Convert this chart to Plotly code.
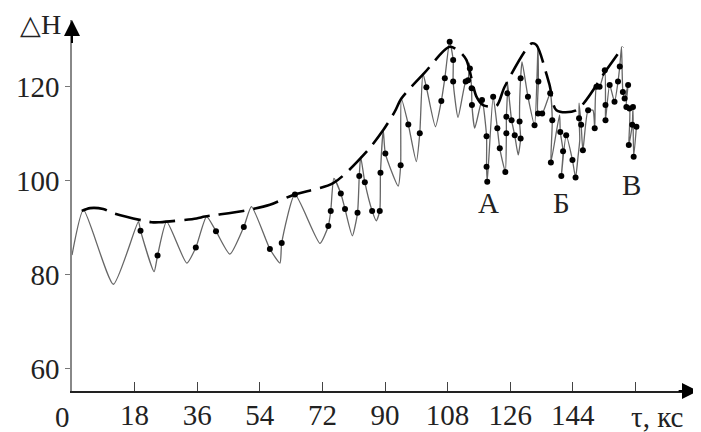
import plotly.graph_objects as go

# ---- data (tau in ks, dH) ----
curve_tau = [0, 3.3, 11.9, 19.1, 19.7, 23.6, 24.6, 27.2, 33.0, 35.6, 38.7, 41.4, 45.4, 49.4, 51.6,
             56.9, 59.8, 60.3, 64.1, 71.3, 73.7, 74.4, 75.3, 77.3, 78.5, 80.6, 82.1, 82.6, 83.0,
             84.2, 86.3, 87.5, 88.5, 88.7, 89.5, 90.1, 93.8, 94.5, 94.7, 96.7, 99.0, 100.0, 100.9,
             101.9, 104.5, 106.2, 107.2, 108.6, 109.6, 109.6, 111.0, 113.2, 113.9, 114.2, 114.4,
             114.9, 115.0, 115.8, 117.9, 119.2, 119.2, 119.4, 121.1, 122.3, 123.0, 124.6, 124.9,
             124.9, 125.2, 125.2, 126.4, 127.3, 128.3, 129.0, 128.7, 129.0, 129.4, 131.1, 133.0,
             134.0, 134.1, 134.0, 135.2, 137.5, 138.1, 137.7, 140.2, 140.4, 141.2, 140.7, 142.1,
             143.9, 144.8, 145.5, 146.0, 145.8, 145.8, 146.4, 146.9, 148.4, 149.8, 150.3, 150.8,
             151.7, 153.2, 153.4, 153.4, 154.6, 156.0, 157.0, 157.5, 158.0, 158.4, 158.9, 159.9,
             159.4, 160.3, 160.1, 161.1, 161.3, 161.5, 162.3]
curve_dH = [84.2, 93.8, 78.0, 91.3, 89.4, 80.7, 84.1, 91.3, 82.5, 85.8, 92.4, 89.3, 84.4, 90.2, 94.5,
            85.5, 82.5, 86.8, 97.1, 86.7, 90.4, 93.6, 100.5, 97.3, 94.0, 88.3, 93.2, 101.0, 105.1,
            99.7, 93.6, 91.5, 93.6, 101.7, 110.8, 105.8, 98.9, 103.3, 117.5, 112.0, 104.1, 110.1, 122.8,
            119.9, 111.5, 117.0, 121.8, 129.6, 125.7, 121.1, 113.5, 121.1, 121.4, 125.0, 123.9,
            119.7, 116.1, 111.2, 117.2, 109.5, 103.0, 99.8, 117.9, 111.2, 106.9, 101.9, 110.1,
            113.6, 118.6, 121.1, 112.9, 109.7, 105.5, 109.0, 112.6, 121.8, 125.3, 117.9, 111.8,
            128.5, 121.1, 114.3, 114.3, 118.6, 112.9, 103.9, 114.0, 110.4, 106.3, 101.0, 109.7,
            104.4, 100.7, 105.1, 108.7, 113.3, 116.5, 111.9, 106.5, 115.0, 115.0, 111.2, 120.0,
            120.0, 123.5, 116.1, 112.9, 120.4, 116.8, 121.1, 124.3, 128.5, 118.9, 117.5, 120.4,
            115.7, 115.4, 107.6, 111.9, 115.7, 105.1, 111.5]

pts_tau = [19.7, 24.6, 35.6, 41.4, 49.4, 56.9, 60.3, 64.1, 73.7, 74.4, 77.3, 78.5, 82.1, 82.6,
           84.2, 86.3, 88.5, 88.7, 90.1, 94.5, 96.7, 100.0, 101.9, 106.2, 107.2, 108.6, 109.6,
           109.6, 113.2, 113.9, 114.4, 114.9, 115.0, 117.9, 119.2, 119.2, 119.4, 121.1, 122.3,
           123.0, 124.6, 124.9, 124.9, 125.2, 126.4, 127.3, 129.0, 128.7, 129.0, 131.1, 133.0,
           134.1, 134.0, 135.2, 137.5, 138.1, 137.7, 140.4, 141.2, 140.7, 142.1, 143.9, 144.8,
           145.8, 146.4, 146.9, 148.4, 150.3, 150.8, 151.7, 153.2, 153.4, 153.4, 154.6, 156.0,
           157.0, 157.5, 158.4, 158.9, 159.9, 159.4, 160.3, 160.1, 161.1, 161.3, 161.5, 162.3]
pts_dH = [89.4, 84.1, 85.8, 89.3, 90.2, 85.5, 86.8, 97.1, 90.4, 93.6, 97.3, 94.0, 93.2, 101.0,
          99.7, 93.6, 93.6, 101.7, 105.8, 103.3, 112.0, 110.1, 119.9, 117.0, 121.8, 129.6, 125.7,
          121.1, 121.1, 121.4, 123.9, 119.7, 116.1, 117.2, 109.5, 103.0, 99.8, 117.9, 111.2,
          106.9, 101.9, 110.1, 113.6, 118.6, 112.9, 109.7, 109.0, 112.6, 121.8, 117.9, 111.8,
          121.1, 114.3, 114.3, 118.6, 112.9, 103.9, 110.4, 106.3, 101.0, 109.7, 104.4, 100.7,
          113.3, 111.9, 106.5, 115.0, 111.2, 120.0, 120.0, 123.5, 116.1, 112.9, 120.4, 116.8,
          121.1, 124.3, 118.9, 117.5, 120.4, 115.7, 115.4, 107.6, 111.9, 115.7, 105.1, 111.5]

env_tau = [2.8, 5.2, 9.0, 11.9, 22.9, 25.3, 35.8, 38.2, 49.2, 56.9, 63.6, 75.1, 84.7, 89.5, 92.8,
           94.7, 101.4, 108.6, 111.5, 113.4, 116.3, 118.2, 122.0, 124.4, 132.1, 133.5, 137.2,
           139.3, 145.0, 153.6, 158.4]
env_dH = [93.6, 94.2, 94.0, 93.1, 91.2, 91.2, 92.0, 92.4, 93.6, 94.9, 97.0, 99.5, 106.2, 110.8,
          114.7, 117.5, 123.0, 128.5, 127.4, 125.7, 117.9, 116.1, 115.9, 120.0, 129.2, 128.9,
          120.7, 115.0, 115.0, 123.5, 128.5]

x_ticks = [18, 36, 54, 72, 90, 108, 126, 144, 162]
x_ticktext = ["18", "36", "54", "72", "90", "108", "126", "144", ""]
y_ticks = [60, 80, 100, 120]
point_labels = ["А", "Б", "В"]
label_tau = [119.7, 140.7, 160.8]
label_dH = [95.2, 95.2, 99.1]

FONT = "Liberation Serif"

fig = go.Figure()
fig.add_trace(go.Scatter(x=curve_tau, y=curve_dH, mode="lines",
                         line=dict(color="#666666", width=1.3, shape="spline", smoothing=0.55),
                         hoverinfo="skip"))
fig.add_trace(go.Scatter(x=env_tau, y=env_dH, mode="lines",
                         line=dict(color="black", width=2.6, dash="26px,9px", shape="spline",
                                   smoothing=0.8),
                         hoverinfo="skip"))
fig.add_trace(go.Scatter(x=pts_tau, y=pts_dH, mode="markers",
                         marker=dict(color="black", size=6)))

for t, xx, yy in zip(point_labels, label_tau, label_dH):
    fig.add_annotation(x=xx, y=yy, text=t, showarrow=False,
                       font=dict(family=FONT, size=29, color="#222"))

# axis arrows
fig.add_annotation(x=180, y=55.3, ax=174, ay=55.3, xref="x", yref="y", axref="x", ayref="y",
                   showarrow=True, arrowhead=2, arrowsize=1.6, arrowwidth=2, arrowcolor="black",
                   text="")
fig.add_annotation(x=0, y=134.2, ax=0, ay=129, xref="x", yref="y", axref="x", ayref="y",
                   showarrow=True, arrowhead=2, arrowsize=1.6, arrowwidth=2, arrowcolor="black",
                   text="")
fig.add_annotation(x=0, y=0, xref="x", yref="paper", text="0", showarrow=False,
                   xanchor="center", yanchor="top", xshift=-10, yshift=-8,
                   font=dict(family=FONT, size=29, color="#222"))
fig.add_annotation(x=168.2, y=0, xref="x", yref="paper", text="τ, кс", showarrow=False,
                   xanchor="center", yanchor="top", yshift=-8,
                   font=dict(family=FONT, size=29, color="#222"))
fig.add_annotation(x=0, y=1, xref="paper", yref="paper",
                   text="<span style='font-size:27px'>△</span>H", showarrow=False,
                   xanchor="right", yanchor="top", xshift=-9, yshift=13,
                   font=dict(family=FONT, size=28, color="#222"))

# the page body adds an 8 px offset; margins compensate so the plot lands where the reference has it
fig.update_layout(
    width=701, height=432,
    margin=dict(l=64, r=11, t=12, b=49, autoexpand=False),
    paper_bgcolor="white", plot_bgcolor="white",
    showlegend=False,
    font=dict(family=FONT, color="#222"),
    xaxis=dict(range=[0, 180], tickvals=x_ticks, ticktext=x_ticktext, ticks="inside",
               ticklen=9, tickwidth=1.3, tickcolor="#444", showgrid=False, zeroline=False,
               showline=True, linecolor="#222", linewidth=2, automargin=False,
               tickfont=dict(family=FONT, size=29, color="#222"), ticklabelstandoff=-3),
    yaxis=dict(range=[55.3, 134.2], tickvals=y_ticks, ticks="outside", ticklen=5,
               tickwidth=1.2, tickcolor="#777", showgrid=False, zeroline=False,
               showline=True, linecolor="#888", linewidth=1.6, automargin=False,
               tickfont=dict(family=FONT, size=29, color="#222")),
)

fig.write_html("out.html")
